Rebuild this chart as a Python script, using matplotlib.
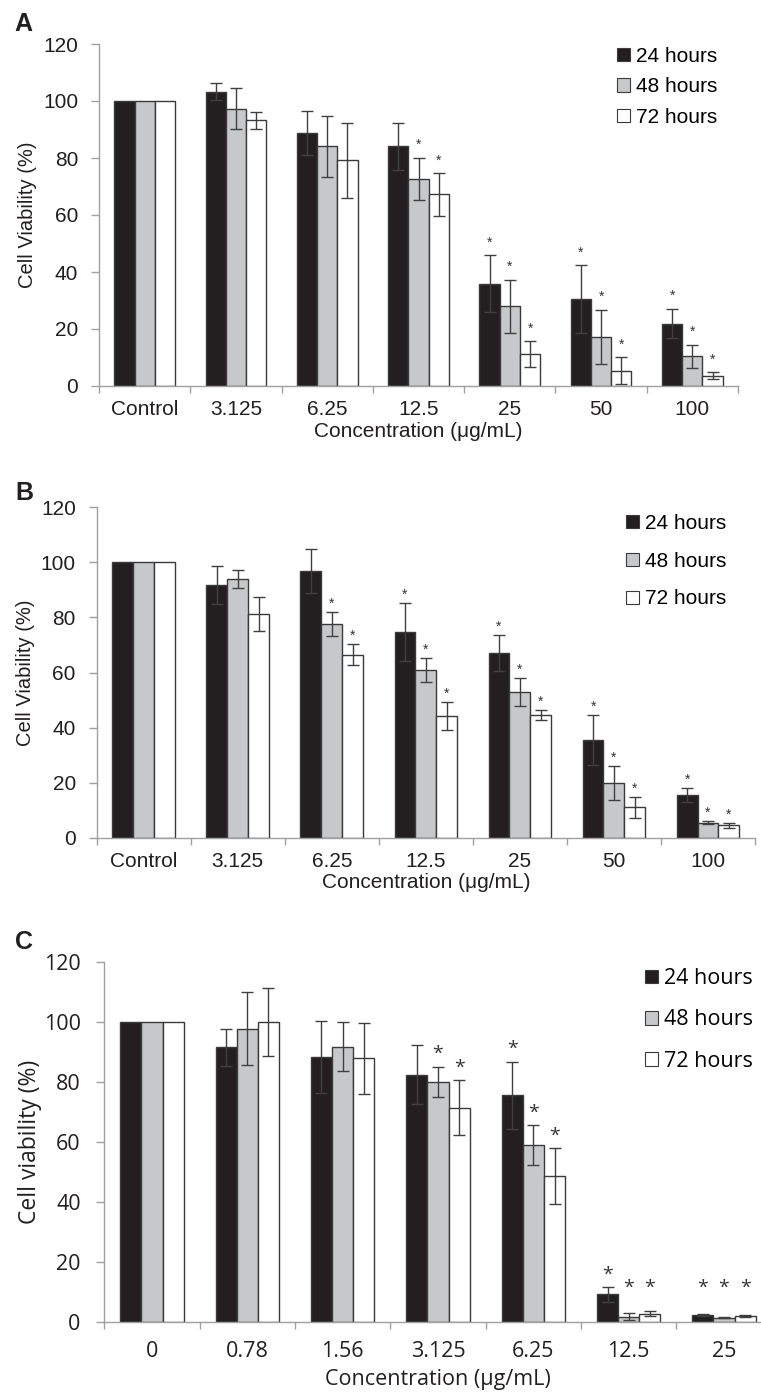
import numpy as np
import matplotlib
matplotlib.use("Agg")
import matplotlib.pyplot as plt
from matplotlib.patches import Patch

# categories / series
conc_ab = ["Control", "3.125", "6.25", "12.5", "25", "50", "100"]
conc_c = ["0", "0.78", "1.56", "3.125", "6.25", "12.5", "25"]
series = ["24 hours", "48 hours", "72 hours"]

# panel A
a_24 = [100, 103.2, 88.7, 84.1, 35.9, 30.5, 21.9]
a_24_err = [0, 3.0, 7.7, 8.3, 10.0, 11.8, 5.2]
a_48 = [100, 97.3, 84.1, 72.7, 27.9, 17.2, 10.4]
a_48_err = [0, 7.3, 10.7, 7.4, 9.4, 9.6, 4.1]
a_72 = [100, 93.2, 79.2, 67.2, 11.2, 5.4, 3.6]
a_72_err = [0, 3.0, 13.2, 7.4, 4.6, 4.8, 1.3]
a_sig_24 = [0, 0, 0, 0, 1, 1, 1]
a_sig_48 = [0, 0, 0, 1, 1, 1, 1]
a_sig_72 = [0, 0, 0, 1, 1, 1, 1]

# panel B
b_24 = [100, 91.8, 96.8, 74.8, 67.0, 35.5, 15.6]
b_24_err = [0, 7.0, 8.1, 10.5, 6.6, 9.0, 2.5]
b_48 = [100, 93.9, 77.6, 60.9, 52.8, 19.9, 5.5]
b_48_err = [0, 3.2, 4.3, 4.3, 5.1, 6.1, 0.5]
b_72 = [100, 81.1, 66.4, 44.3, 44.7, 11.0, 4.5]
b_72_err = [0, 6.2, 3.8, 5.1, 1.8, 3.9, 0.8]
b_sig_24 = [0, 0, 0, 1, 1, 1, 1]
b_sig_48 = [0, 0, 1, 1, 1, 1, 1]
b_sig_72 = [0, 0, 1, 1, 1, 1, 1]

# panel C
c_24 = [100, 91.6, 88.3, 82.4, 75.6, 9.1, 2.2]
c_24_err = [0, 6.2, 12.1, 9.9, 11.2, 2.5, 0.3]
c_48 = [100, 97.8, 91.8, 80.1, 58.9, 1.7, 1.3]
c_48_err = [0, 12.2, 8.2, 5.0, 6.7, 1.1, 0.2]
c_72 = [100, 100, 87.9, 71.4, 48.6, 2.7, 1.8]
c_72_err = [0, 11.2, 11.9, 9.2, 9.3, 0.9, 0.3]
c_sig_24 = [0, 0, 0, 0, 1, 1, 1]
c_sig_48 = [0, 0, 0, 1, 1, 1, 1]
c_sig_72 = [0, 0, 0, 1, 1, 1, 1]

W, H = 761, 1394
fig = plt.figure(figsize=(W / 100, H / 100), dpi=100)

bar_colors = ["#231f20", "#c7c8ca", "#ffffff"]
edge = "#3a3a3a"
spine_col = "#a0a0a0"
text_col = "#231f20"


def px_axes(l, r, t, b):
    return fig.add_axes([l / W, 1 - b / H, (r - l) / W, (b - t) / H])


def panel(ax, cats, vals, errs, sigs, font, fs, yfs, ylabel, ast_fs, ast_off,
          ast_floor, xpad, xlpad, ypad, ylpad, leg_xy, leg_space, letter,
          letter_xy):
    n = len(cats)
    width = 0.222
    x0 = np.arange(n)
    for k in range(3):
        x = x0 + (k - 1) * width
        ax.bar(x, vals[k], width, color=bar_colors[k], edgecolor=edge,
               linewidth=1.0, zorder=2)
        e = np.array(errs[k])
        m = e > 0
        ax.errorbar(x[m], np.array(vals[k])[m], yerr=e[m], fmt="none",
                    ecolor="#404040", elinewidth=1.0, capsize=4, capthick=1.0,
                    zorder=3)
        for i in range(n):
            if sigs[k][i]:
                y = max(vals[k][i] + errs[k][i], ast_floor)
                ax.annotate("*", (x[i], y), xytext=(0, ast_off),
                            textcoords="offset points", ha="center", va="center",
                            fontsize=ast_fs, family=font, color="#333333")
    ax.set_xlim(-0.5, n - 0.5)
    ax.set_ylim(0, 120)
    ax.set_yticks(range(0, 121, 20))
    ax.set_xticks(np.arange(n + 1) - 0.5)
    ax.set_xticklabels([])
    ax.set_xticks(x0, minor=True)
    ax.set_xticklabels(cats, minor=True, family=font, fontsize=fs, color=text_col)
    ax.tick_params(axis="x", which="major", length=5, color=spine_col, width=1)
    ax.tick_params(axis="x", which="minor", length=0, pad=xpad)
    ax.tick_params(axis="y", length=6, color=spine_col, width=1, pad=ypad,
                   labelsize=fs, labelcolor=text_col)
    for lab in ax.get_yticklabels():
        lab.set_family(font)
    for s in ["top", "right"]:
        ax.spines[s].set_visible(False)
    for s in ["left", "bottom"]:
        ax.spines[s].set_color(spine_col)
        ax.spines[s].set_linewidth(1)
    ax.set_ylabel(ylabel, family=font, fontsize=yfs, color=text_col,
                  labelpad=ylpad)
    ax.set_xlabel("Concentration (\u03bcg/mL)", family=font, fontsize=fs,
                  color=text_col, labelpad=xlpad)
    handles = [Patch(facecolor=c, edgecolor=edge, linewidth=0.8) for c in bar_colors]
    ax.legend(handles, series, loc="upper left",
              bbox_to_anchor=(leg_xy[0] / W, 1 - leg_xy[1] / H),
              bbox_transform=fig.transFigure, frameon=False,
              handlelength=0.6, handleheight=0.6, handletextpad=0.3,
              labelspacing=leg_space, borderpad=0, borderaxespad=0,
              prop={"family": font, "size": fs})
    fig.text(letter_xy[0] / W, 1 - letter_xy[1] / H, letter, fontsize=18,
             fontweight="bold", family="Liberation Sans", color=text_col,
             ha="left", va="top")


axA = px_axes(99, 738, 44, 386)
panel(axA, conc_ab, [a_24, a_48, a_72], [a_24_err, a_48_err, a_72_err],
      [a_sig_24, a_sig_48, a_sig_72], "Liberation Sans", 15, 14.5,
      "Cell Viability (%)", 10, 9, 0, 10, 2, 9, 4, (617, 47), 0.55, "A",
      (14, 12))

axB = px_axes(96.7, 755, 507.3, 837.7)
panel(axB, conc_ab, [b_24, b_48, b_72], [b_24_err, b_48_err, b_72_err],
      [b_sig_24, b_sig_48, b_sig_72], "Liberation Sans", 15, 14.5,
      "Cell Viability (%)", 10, 6, 0, 10, 2, 9, 4, (626, 514), 0.9, "B",
      (15, 481))

axC = px_axes(104.3, 771.7, 962, 1321.7)
panel(axC, conc_c, [c_24, c_48, c_72], [c_24_err, c_48_err, c_72_err],
      [c_sig_24, c_sig_48, c_sig_72], "Open Sans", 15.5, 16.5,
      "Cell viability (%)", 14, 9, 7, 14, 5, 11, 1, (645, 968), 0.95, "C",
      (15, 930))

fig.savefig("out.png", dpi=100)
